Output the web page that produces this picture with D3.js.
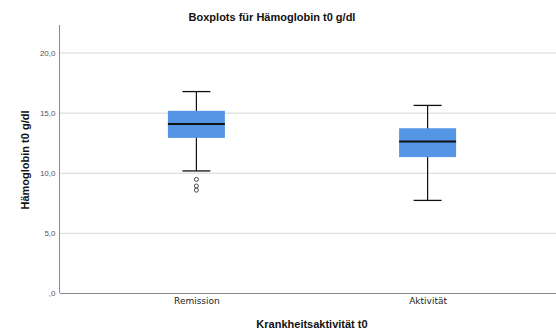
<!DOCTYPE html>
<html>
<head>
<meta charset="utf-8">
<script src="https://cdn.jsdelivr.net/npm/d3@7"></script>
<style>
  html, body { margin: 0; padding: 0; background: #fff; }
  svg { display: block; font-family: "Liberation Sans", Arial, sans-serif; }
</style>
</head>
<body>
<svg id="chart" width="556" height="331"></svg>
<script>
// Kategorien und Kennwerte der Boxplots (g/dl)
const categories = ["Remission", "Aktivität"];
const whiskerLow  = [10.15, 7.7];
const q1          = [12.9, 11.3];
const median      = [14.05, 12.6];
const q3          = [15.15, 13.7];
const whiskerHigh = [16.75, 15.6];
const outliers    = [[9.45, 8.9, 8.55], []];
const yTicks      = [0, 5, 10, 15, 20];

const svg = d3.select("#chart");
const plotLeft = 60, plotRight = 564, plotTop = 25, plotBottom = 293;

const x = d3.scalePoint().domain(categories).range([plotLeft, plotRight]).padding(0.59);
const y = d3.scaleLinear().domain([0, 20]).range([plotBottom, 52.5]);
const fmt = v => v === 0 ? ",0" : d3.format(".1f")(v).replace(".", ",");

// Gitterlinien
svg.append("g")
  .selectAll("line").data(yTicks.filter(d => d > 0)).join("line")
  .attr("x1", plotLeft).attr("x2", 556)
  .attr("y1", d => y(d) + 0.5).attr("y2", d => y(d) + 0.5)
  .attr("stroke", "#d6d6d6").attr("stroke-width", 1);

// y-Achse
const yAxis = svg.append("g").attr("transform", `translate(${plotLeft - 0.5},0)`)
  .call(d3.axisLeft(y).tickValues(yTicks).tickFormat(fmt).tickSize(0).tickPadding(4));
yAxis.select(".domain").remove();
yAxis.selectAll("text").attr("fill", "#555").style("font-size", "8px");
svg.append("line").attr("x1", plotLeft - 0.5).attr("x2", plotLeft - 0.5)
  .attr("y1", plotTop).attr("y2", plotBottom).attr("stroke", "#888");

// x-Achse
svg.append("line").attr("x1", plotLeft).attr("x2", 556)
  .attr("y1", plotBottom + 0.5).attr("y2", plotBottom + 0.5).attr("stroke", "#888");
const xAxis = svg.append("g").attr("transform", `translate(0,${plotBottom})`)
  .call(d3.axisBottom(x).tickSize(0).tickPadding(5));
xAxis.select(".domain").remove();
xAxis.selectAll("text").attr("fill", "#222")
  .style("font-family", "'DejaVu Sans', sans-serif").style("font-size", "9px");

const boxW = 57, capW = 28;
const rows = categories.map((c, i) => ({
  c, lo: whiskerLow[i], q1: q1[i], med: median[i], q3: q3[i], hi: whiskerHigh[i], out: outliers[i]
}));

const g = svg.append("g").selectAll("g").data(rows).join("g");

// Whisker
g.append("line")
  .attr("x1", d => x(d.c)).attr("x2", d => x(d.c))
  .attr("y1", d => y(d.hi)).attr("y2", d => y(d.lo))
  .attr("stroke", "#111").attr("stroke-width", 1.2);
g.selectAll(".cap").data(d => [d.lo, d.hi].map(v => ({ c: d.c, v }))).join("line")
  .attr("class", "cap")
  .attr("x1", d => x(d.c) - capW / 2).attr("x2", d => x(d.c) + capW / 2)
  .attr("y1", d => y(d.v)).attr("y2", d => y(d.v))
  .attr("stroke", "#111").attr("stroke-width", 1.3);

// Box
g.append("rect")
  .attr("x", d => x(d.c) - boxW / 2).attr("width", boxW)
  .attr("y", d => y(d.q3)).attr("height", d => y(d.q1) - y(d.q3))
  .attr("fill", "#5595e6");

// Median
g.append("line")
  .attr("x1", d => x(d.c) - boxW / 2).attr("x2", d => x(d.c) + boxW / 2)
  .attr("y1", d => y(d.med)).attr("y2", d => y(d.med))
  .attr("stroke", "#111").attr("stroke-width", 2);

// Ausreißer
g.selectAll("circle").data(d => d.out.map(v => ({ c: d.c, v }))).join("circle")
  .attr("cx", d => x(d.c)).attr("cy", d => y(d.v)).attr("r", 2)
  .attr("fill", "#fff").attr("stroke", "#333").attr("stroke-width", 0.9);

// Titel
svg.append("text").attr("x", 272).attr("y", 21).attr("text-anchor", "middle")
  .style("font-size", "11px").style("font-weight", "bold").attr("fill", "#111")
  .text("Boxplots für Hämoglobin t0 g/dl");
svg.append("text").attr("x", (plotLeft + plotRight) / 2).attr("y", 328).attr("text-anchor", "middle")
  .style("font-size", "11px").style("font-weight", "bold").attr("fill", "#111")
  .text("Krankheitsaktivität t0");
svg.append("text").attr("transform", `translate(29,160) rotate(-90)`)
  .attr("text-anchor", "middle")
  .style("font-size", "11px").style("font-weight", "bold").attr("fill", "#111")
  .text("Hämoglobin t0 g/dl");
</script>
</body>
</html>
